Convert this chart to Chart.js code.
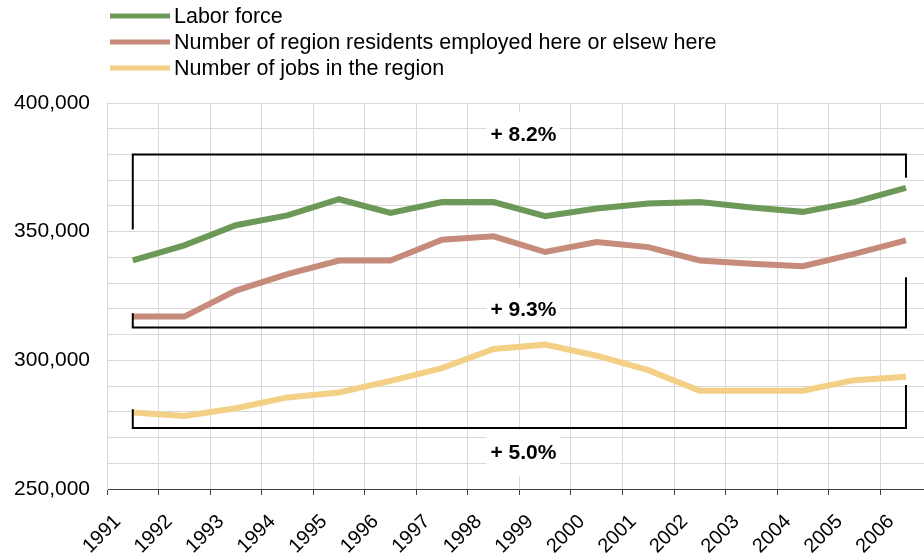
<!DOCTYPE html>
<html>
<head>
<meta charset="utf-8">
<script src="https://cdn.jsdelivr.net/npm/chart.js@4.4.1/dist/chart.umd.min.js"></script>
<style>
  html, body { margin: 0; padding: 0; overflow: hidden; background: #fff; }
  canvas { display: block; }
</style>
</head>
<body>
<canvas id="laborChart" width="938" height="556"></canvas>
<script>
// Data
const years = ["1991", "1992", "1993", "1994", "1995", "1996", "1997", "1998",
  "1999", "2000", "2001", "2002", "2003", "2004", "2005", "2006"];

const laborForce = [338800, 344700, 352500, 356300, 362600, 357300, 361500, 361500,
  356000, 359000, 360900, 361500, 359400, 357700, 361500, 367000];

const residentsEmployed = [317000, 317000, 327100, 333500, 338800, 338800, 346900, 348200,
  342100, 346000, 344000, 338800, 337500, 336600, 341400, 346600];

const regionJobs = [279700, 278400, 281400, 285600, 287500, 292000, 297000, 304400,
  306100, 301800, 296200, 288200, 288200, 288200, 292300, 293600];

// Growth brackets: level of the bar, tops of the two legs, label level
const bracketLabels = ["+ 8.2%", "+ 9.3%", "+ 5.0%"];
const bracketBars = [380000, 312800, 273700];
const bracketLeftEnds = [350800, 318300, 281000];
const bracketRightEnds = [371000, 332300, 290400];
const bracketTextLevels = [387500, 319300, 264000];

const FONT = "'Liberation Sans', Arial, sans-serif";
Chart.defaults.font.family = FONT;
Chart.defaults.color = "#000";

// Draws the bracket annotations on top of the lines
const bracketPlugin = {
  id: "brackets",
  afterDatasetsDraw(chart) {
    const { ctx, scales } = chart;
    const x0 = scales.x.getPixelForValue(0);
    const x1 = scales.x.getPixelForValue(years.length - 1);
    const mid = (x0 + x1) / 2 + 4;
    ctx.save();
    bracketLabels.forEach((label, i) => {
      const yBar = scales.y.getPixelForValue(bracketBars[i]);
      const yL = scales.y.getPixelForValue(bracketLeftEnds[i]);
      const yR = scales.y.getPixelForValue(bracketRightEnds[i]);
      const yT = scales.y.getPixelForValue(bracketTextLevels[i]);

      // white box behind the label hides the grid
      ctx.fillStyle = "#fff";
      ctx.fillRect(mid - 37, yT - 23, 74, 46);

      ctx.strokeStyle = "#000";
      ctx.lineWidth = 2;
      ctx.beginPath();
      ctx.moveTo(x0, yL);
      ctx.lineTo(x0, yBar);
      ctx.lineTo(x1, yBar);
      ctx.lineTo(x1, yR);
      ctx.stroke();

      ctx.fillStyle = "#000";
      ctx.font = "bold 21px " + FONT;
      ctx.textAlign = "center";
      ctx.textBaseline = "middle";
      ctx.fillText(label, mid, yT);
    });
    ctx.restore();
  },
};

// Vertical legend in the top-left corner
const legendPlugin = {
  id: "stackedLegend",
  afterDraw(chart) {
    const { ctx } = chart;
    ctx.save();
    chart.data.datasets.forEach((ds, i) => {
      const y = 16 + i * 26;
      ctx.strokeStyle = ds.borderColor;
      ctx.lineWidth = 5;
      ctx.beginPath();
      ctx.moveTo(110, y);
      ctx.lineTo(170, y);
      ctx.stroke();
      ctx.fillStyle = "#000";
      ctx.font = "21.5px " + FONT;
      ctx.textAlign = "left";
      ctx.textBaseline = "middle";
      ctx.fillText(ds.label, 174, y + 1);
    });
    ctx.restore();
  },
};

const ctx = document.getElementById("laborChart").getContext("2d");

new Chart(ctx, {
  type: "line",
  data: {
    labels: years,
    datasets: [
      {
        label: "Labor force",
        data: laborForce,
        borderColor: "#6d9958",
      },
      {
        label: "Number of region residents employed here or elsew here",
        data: residentsEmployed,
        borderColor: "#c68b7a",
      },
      {
        label: "Number of jobs in the region",
        data: regionJobs,
        borderColor: "#f3d085",
      },
    ],
  },
  options: {
    responsive: false,
    animation: false,
    layout: { padding: { top: 103, right: 2, left: 0, bottom: 0 } },
    elements: {
      line: { borderWidth: 6, tension: 0, borderCapStyle: "butt" },
      point: { radius: 0 },
    },
    plugins: {
      legend: { display: false },
      tooltip: { enabled: false },
    },
    scales: {
      x: {
        offset: true,
        grid: {
          offset: true,
          color: "#d9d9d9",
          tickColor: "#404040",
          tickLength: 6,
        },
        border: { color: "#404040", width: 1 },
        ticks: {
          minRotation: 45,
          maxRotation: 45,
          autoSkip: false,
          labelOffset: -15,
          padding: 15,
          font: { size: 20 },
        },
        afterFit(axis) {
          axis.height = 67;
        },
      },
      y: {
        min: 250000,
        max: 400000,
        grid: { color: "#d9d9d9", drawTicks: false },
        border: { color: "#d9d9d9" },
        ticks: {
          stepSize: 10000,
          autoSkip: false,
          padding: 17,
          font: { size: 21 },
          callback: (v) => (v % 50000 === 0 ? v.toLocaleString("en-US") : ""),
        },
        afterFit(axis) {
          axis.width = 107;
        },
      },
    },
  },
  plugins: [bracketPlugin, legendPlugin],
});
</script>
</body>
</html>
